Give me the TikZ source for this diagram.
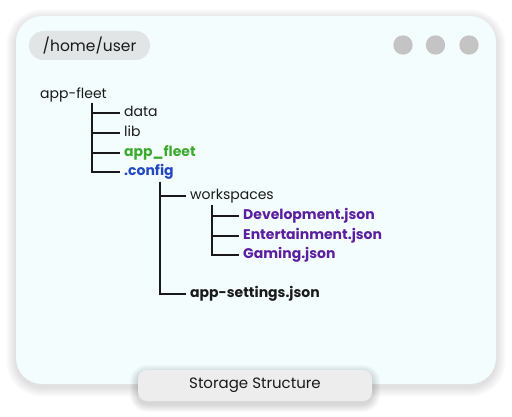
\documentclass[tikz,border=0pt]{standalone}
\usepackage{fontspec}
\setmainfont{Poppins}
\usetikzlibrary{positioning}
\definecolor{winbg}{HTML}{F3FDFE}
\definecolor{pillbg}{HTML}{E2E5E6}
\definecolor{dotgray}{HTML}{C4C4C4}
\definecolor{tagbg}{HTML}{EDEDED}
\definecolor{inkblack}{HTML}{1A1A1A}
\definecolor{dirgreen}{HTML}{3BAA2E}
\definecolor{dirblue}{HTML}{2447C2}
\definecolor{jsonpurple}{HTML}{5A1E9E}

\begin{document}
\begin{tikzpicture}[x=1pt, y=-1pt,
  item/.style={anchor=west, inner sep=3pt, text height=10pt, text depth=3pt,
    font=\fontsize{14}{16}\selectfont, text=inkblack},
  bolditem/.style={item, font=\fontsize{14}{16}\selectfont\bfseries},
  branch/.style={line width=1.2pt, inkblack, shorten >=1pt},
  softshade/.style={black, opacity=0.011}]
  \useasboundingbox[fill=white] (0,0) rectangle (512,417);

  % window with its soft shadow
  \foreach \s in {1,...,10}
    \fill[softshade, rounded corners=26pt+\s pt] (16-\s,19-\s) rectangle (496+\s,387+\s);
  \fill[winbg, rounded corners=26pt] (16,16) rectangle (496,384);
  \node[fill=pillbg, rounded corners=14.5pt, minimum width=121pt, minimum height=29pt,
    font=\fontsize{15.5}{17}\selectfont, text=inkblack] (path) at (89.5,45.5) {/home/user};
  \foreach \x [count=\i] in {403,435.5,469}
    \fill[dotgray] (\x,45) circle (9.7pt) coordinate (dot\i);

  % tree
  \node[item] (root) at (37,95) {app-fleet};
  \node[item] (data) at (121,113) {data};
  \node[item, below=20pt of data.west, anchor=west] (lib) {lib};
  \node[bolditem, below=20pt of lib.west, anchor=west, text=dirgreen] (appfleet) {app\_fleet};
  \node[bolditem, below=19pt of appfleet.west, anchor=west, text=dirblue] (config) {.config};
  \node[item] (workspaces) at (187,196) {workspaces};
  \node[bolditem, text=jsonpurple] (dev) at (240,216) {Development.json};
  \node[bolditem, below=20pt of dev.west, anchor=west, text=jsonpurple] (ent) {Entertainment.json};
  \node[bolditem, below=19pt of ent.west, anchor=west, text=jsonpurple] (gaming) {Gaming.json};
  \node[bolditem] (settings) at (187,294) {app-settings.json};

  \coordinate (fleetTrunk) at (92,103);
  \coordinate (configTrunk) at (160,182);
  \coordinate (wsTrunk) at (212,205);
  \foreach \c in {data,lib,appfleet,config}
    \draw[branch] (fleetTrunk) |- (\c.west);
  \foreach \c in {workspaces,settings}
    \draw[branch] (configTrunk) |- (\c.west);
  \foreach \c in {dev,ent,gaming}
    \draw[branch] (wsTrunk) |- (\c.west);

  % caption tag
  \foreach \s in {1,...,8}
    \fill[softshade, opacity=0.02, rounded corners=9pt+\s pt] (138-\s,373-\s) rectangle (372+\s,404+\s);
  \node[fill=tagbg, rounded corners=9pt, minimum width=234pt, minimum height=31pt,
    font=\fontsize{15}{17}\selectfont, text=inkblack] (caption) at (255,385.5) {Storage Structure};
\end{tikzpicture}
\end{document}
